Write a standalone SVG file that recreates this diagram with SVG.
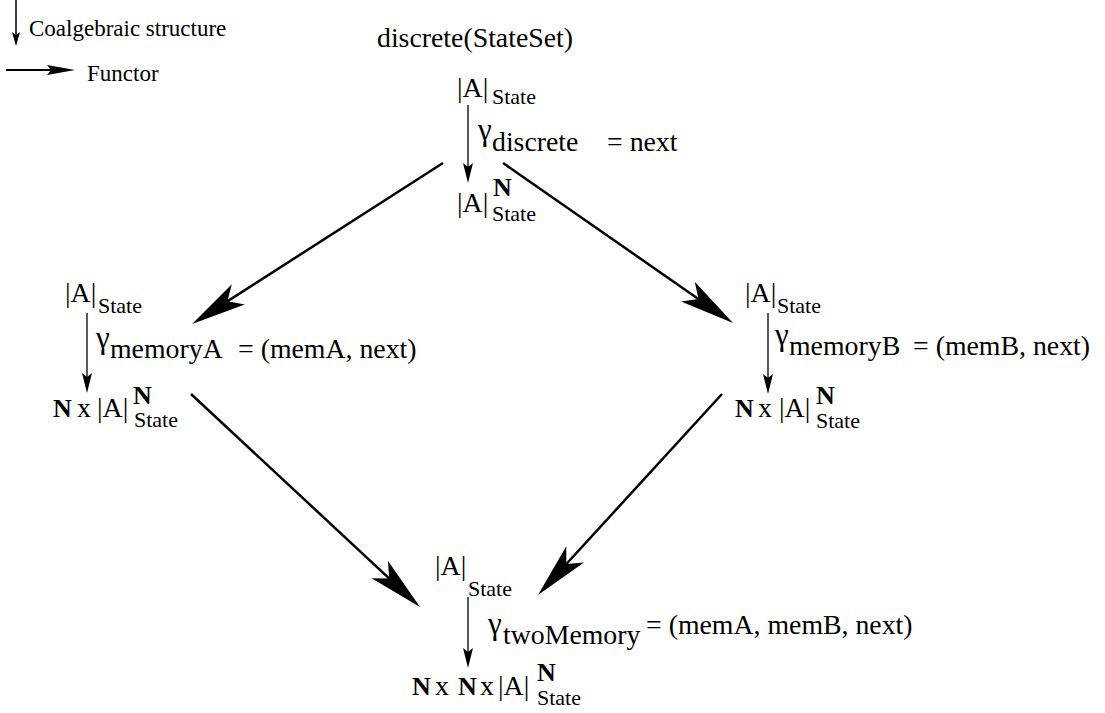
<svg xmlns="http://www.w3.org/2000/svg" width="1105" height="713" viewBox="0 0 1105 713">
  <style>
    text { font-family: "Liberation Serif", "Times New Roman", serif; fill: #000; }
    .t { font-size: 27.8px; }
    .g { font-size: 31px; }
    .s { font-size: 22px; }
    .b { font-size: 26px; font-weight: bold; }
    .lg { font-size: 23px; }
    .coal { stroke: #000; stroke-width: 1.3; fill: none; marker-end: url(#head-coal); }
    .func { stroke: #000; stroke-width: 2.5; fill: none; marker-end: url(#head-func); }
  </style>
  <defs>
    <!-- thin arrowhead for the coalgebraic structure maps -->
    <marker id="head-coal" markerUnits="userSpaceOnUse" orient="auto" refX="0" refY="0"
            markerWidth="40" markerHeight="20" viewBox="-10 -10 40 20" overflow="visible">
      <path d="M16,0 L-4,-5 L0,0 L-4,5 Z" fill="#000"/>
    </marker>
    <!-- barbed arrowhead for the functors -->
    <marker id="head-func" markerUnits="userSpaceOnUse" orient="auto" refX="0" refY="0"
            markerWidth="80" markerHeight="40" viewBox="-20 -20 80 40" overflow="visible">
      <path d="M40,0 L-15,-12 L-2,0 L-15,12 Z" fill="#000"/>
    </marker>
    <!-- smaller heads used in the key -->
    <marker id="head-key-coal" markerUnits="userSpaceOnUse" orient="auto" refX="0" refY="0"
            markerWidth="30" markerHeight="20" viewBox="-10 -10 30 20" overflow="visible">
      <path d="M11,0 L-3,-4 L0,0 L-3,4 Z" fill="#000"/>
    </marker>
    <marker id="head-key-func" markerUnits="userSpaceOnUse" orient="auto" refX="0" refY="0"
            markerWidth="40" markerHeight="20" viewBox="-10 -10 40 20" overflow="visible">
      <path d="M22,0 L-6,-5 L-2,0 L-6,5 Z" fill="#000"/>
    </marker>
  </defs>

  <rect x="0" y="0" width="1105" height="713" fill="#fff"/>

  <!-- key -->
  <g id="legend">
    <line x1="16" y1="0" x2="16" y2="35" stroke="#000" stroke-width="1.5" marker-end="url(#head-key-coal)"/>
    <text class="lg" x="29" y="36">Coalgebraic structure</text>
    <line x1="6" y1="70" x2="53" y2="70" stroke="#000" stroke-width="2" marker-end="url(#head-key-func)"/>
    <text class="lg" x="87" y="81">Functor</text>
  </g>

  <!-- discrete(StateSet) -->
  <g id="node-discrete">
    <text class="t" x="377" y="47">discrete(StateSet)</text>
    <text class="t" x="457" y="97">|A|</text>
    <text class="s" x="492" y="104">State</text>
    <line class="coal" x1="468" y1="105" x2="468" y2="167"/>
    <text class="g" x="478" y="140">γ</text>
    <text class="t" x="492" y="151">discrete</text>
    <text class="t" x="607" y="151">= next</text>
    <text class="t" x="457" y="212">|A|</text>
    <text class="b" x="493" y="196">N</text>
    <text class="s" x="492" y="221">State</text>
  </g>

  <!-- memoryA -->
  <g id="node-memoryA">
    <text class="t" x="65" y="302">|A|</text>
    <text class="s" x="98" y="313">State</text>
    <line class="coal" x1="87" y1="313" x2="87" y2="377"/>
    <text class="g" x="96" y="348">γ</text>
    <text class="t" x="110" y="358">memoryA</text>
    <text class="t" x="238" y="358">= (memA, next)</text>
    <text class="b" x="53" y="417">N</text>
    <text class="t" x="77" y="417">x</text>
    <text class="t" x="97" y="417">|A|</text>
    <text class="b" x="133" y="404">N</text>
    <text class="s" x="134" y="427">State</text>
  </g>

  <!-- memoryB -->
  <g id="node-memoryB">
    <text class="t" x="745" y="302">|A|</text>
    <text class="s" x="777" y="313">State</text>
    <line class="coal" x1="768" y1="313" x2="768" y2="378"/>
    <text class="g" x="775" y="345">γ</text>
    <text class="t" x="789" y="355">memoryB</text>
    <text class="t" x="913" y="355">= (memB, next)</text>
    <text class="b" x="735" y="417">N</text>
    <text class="t" x="758" y="417">x</text>
    <text class="t" x="779" y="417">|A|</text>
    <text class="b" x="816" y="404">N</text>
    <text class="s" x="816" y="428">State</text>
  </g>

  <!-- twoMemory -->
  <g id="node-twoMemory">
    <text class="t" x="435" y="575">|A|</text>
    <text class="s" x="468" y="596">State</text>
    <line class="coal" x1="468" y1="597" x2="468" y2="652"/>
    <text class="g" x="488" y="634">γ</text>
    <text class="t" x="503" y="644">twoMemory</text>
    <text class="t" x="646" y="634">= (memA, memB, next)</text>
    <text class="b" x="412" y="695">N</text>
    <text class="t" x="435" y="695">x</text>
    <text class="b" x="458" y="695">N</text>
    <text class="t" x="480" y="695">x</text>
    <text class="t" x="498" y="695">|A|</text>
    <text class="b" x="537" y="681">N</text>
    <text class="s" x="537" y="705">State</text>
  </g>

  <!-- functors between the coalgebras -->
  <g id="connectors">
    <line class="func" x1="443" y1="163" x2="225.7" y2="302.4"/>
    <line class="func" x1="503" y1="163" x2="700.2" y2="300.2"/>
    <line class="func" x1="191" y1="394" x2="390.7" y2="579.8"/>
    <line class="func" x1="722" y1="394" x2="565.0" y2="565.5"/>
  </g>
</svg>
